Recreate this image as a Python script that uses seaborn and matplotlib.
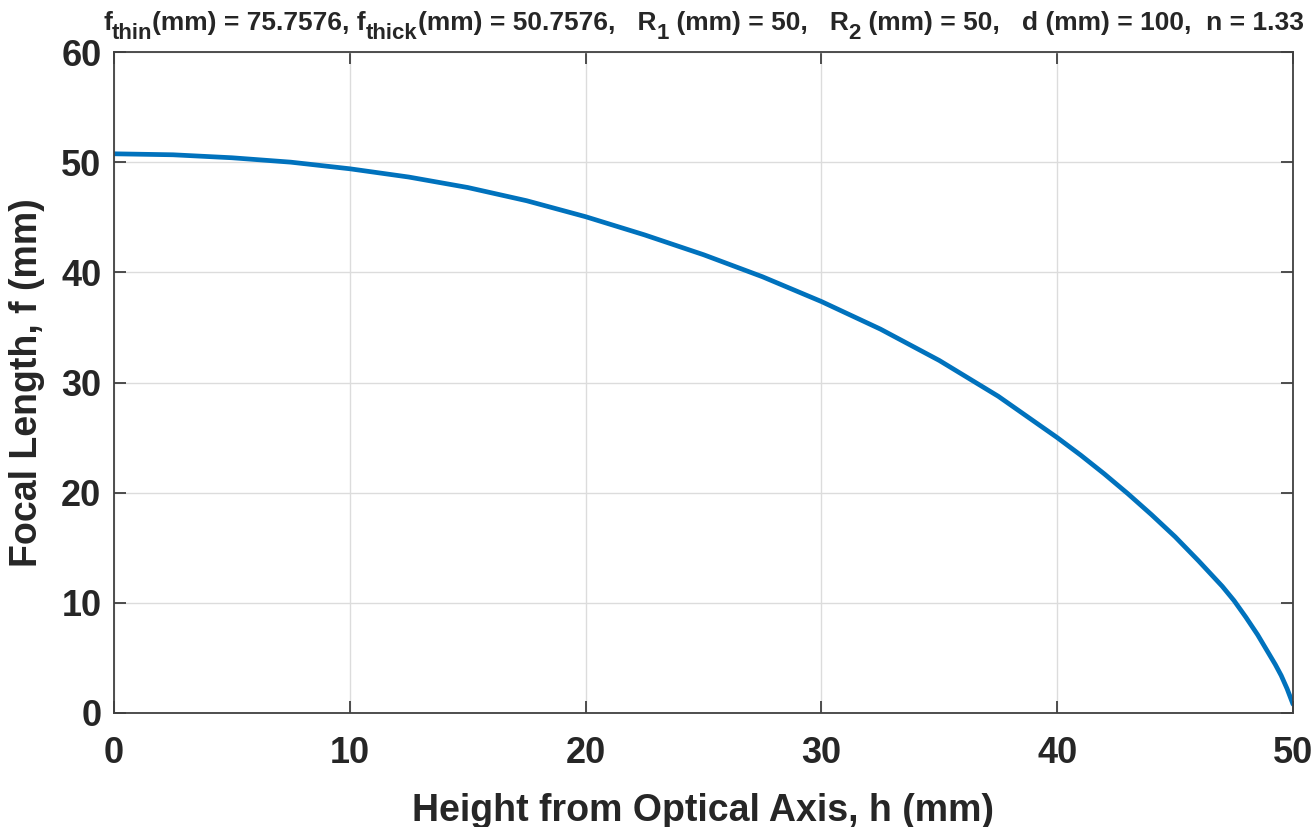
import matplotlib
matplotlib.use("Agg")
import matplotlib.pyplot as plt
import seaborn as sns
import pandas as pd

# Values
height_mm = [0, 2.5, 5, 7.5, 10, 12.5, 15, 17.5, 20, 22.5, 25, 27.5, 30, 32.5, 35,
             37.5, 40, 41, 42, 43, 44, 45, 46, 47, 47.5, 48, 48.5, 49, 49.25,
             49.5, 49.75, 50]
focal_mm = [50.76, 50.67, 50.4, 50.0, 49.4, 48.65, 47.7, 46.5, 45.05, 43.4, 41.6,
            39.6, 37.35, 34.85, 32.0, 28.75, 25.0, 23.4, 21.7, 19.9, 18.0, 16.0,
            13.8, 11.5, 10.2, 8.7, 7.1, 5.3, 4.4, 3.4, 2.2, 0.8]
x_ticks = [0, 10, 20, 30, 40, 50]
y_ticks = [0, 10, 20, 30, 40, 50, 60]
x_label = "Height from Optical Axis, h (mm)"
y_label = "Focal Length, f (mm)"
# title pieces: (text, is_subscript)
title_parts = [("f", False), ("thin", True), ("(mm) = 75.7576, f", False),
               ("thick", True), ("(mm) = 50.7576,   R", False), ("1", True),
               (" (mm) = 50,   R", False), ("2", True),
               (" (mm) = 50,   d (mm) = 100,  n = 1.33", False)]

df = pd.DataFrame({"h": height_mm, "f": focal_mm})

sns.set_theme(style="whitegrid")
plt.rcParams["font.family"] = ["Liberation Sans", "DejaVu Sans"]

fig = plt.figure(figsize=(13.15, 8.27), dpi=100)
ax = fig.add_axes([114 / 1315, 1 - 713 / 827, (1293 - 114) / 1315, (713 - 52) / 827])

sns.lineplot(data=df, x="h", y="f", ax=ax, color="#0072BD", linewidth=3.4,
             estimator=None, sort=False)

ax.set_xlim(0, 50)
ax.set_ylim(0, 60)
ax.set_xticks(x_ticks)
ax.set_yticks(y_ticks)
ax.grid(True, color="#dcdcdc", linewidth=1.0)
ax.set_facecolor("white")

txtc = "#262626"
for s in ax.spines.values():
    s.set_visible(True)
    s.set_color("#404040")
    s.set_linewidth(1.3)

ax.tick_params(axis="both", which="both", direction="in", length=8.5, width=1.3,
               color="#404040", labelsize=26, labelcolor=txtc,
               top=True, right=True, bottom=True, left=True)
ax.tick_params(axis="x", pad=16.5)
ax.tick_params(axis="y", pad=9)
for lab in ax.get_xticklabels() + ax.get_yticklabels():
    lab.set_fontweight("bold")

ax.set_xlabel(x_label, fontsize=27, fontweight="bold", color=txtc, labelpad=16)
ax.set_ylabel(y_label, fontsize=27, fontweight="bold", color=txtc, labelpad=12)

# Title built from pieces so subscripts keep a MATLAB-like size
main_size, sub_size = 19, 16
base_off, sub_drop = 15.5, 6.0
arts = []
first = None
prev = None
for txt, is_sub in title_parts:
    dy = base_off - sub_drop if is_sub else base_off
    size = sub_size if is_sub else main_size
    if prev is None:
        a = ax.annotate(txt, xy=(0.0, 1.0), xycoords="axes fraction",
                        xytext=(0, dy), textcoords="offset points",
                        ha="left", va="baseline", fontsize=size,
                        fontweight="bold", color=txtc, annotation_clip=False)
        first = a
    else:
        a = ax.annotate(txt, xy=(1.0, 1.0), xycoords=(prev, "axes fraction"),
                        xytext=(0, dy), textcoords="offset points",
                        ha="left", va="baseline", fontsize=size,
                        fontweight="bold", color=txtc, annotation_clip=False)
    arts.append(a)
    prev = a

fig.canvas.draw()
r = fig.canvas.get_renderer()
left = arts[0].get_window_extent(r).x0
right = arts[-1].get_window_extent(r).x1
width_px = right - left
ax_bb = ax.get_window_extent(r)
center_px = (ax_bb.x0 + ax_bb.x1) / 2
first.xy = ((center_px - width_px / 2 - ax_bb.x0) / ax_bb.width, 1.0)

fig.savefig("out.png", dpi=100, facecolor="white")
